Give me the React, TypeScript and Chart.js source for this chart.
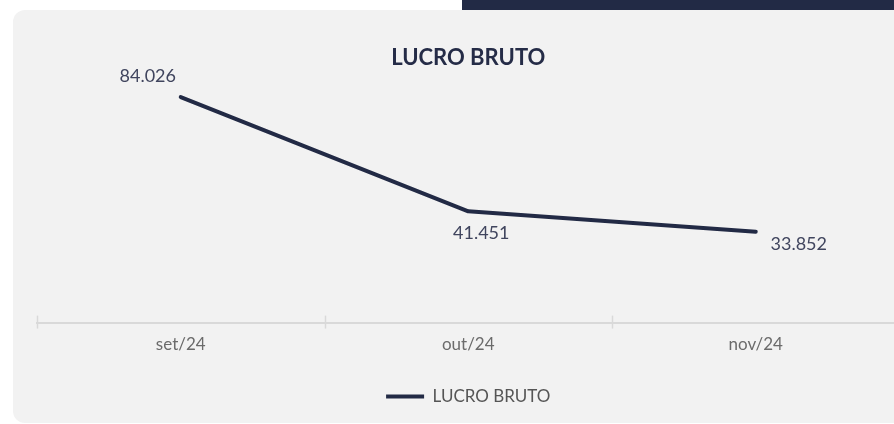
import React, { useEffect, useRef } from "react";
import { Chart, registerables } from "chart.js";

Chart.register(...registerables);

const categories = ["set/24", "out/24", "nov/24"];
const lucroBruto = [84026, 41451, 33852];
const seriesName = "LUCRO BRUTO";
const chartTitle = "LUCRO BRUTO";

const NAVY = "#222a45";
const FONT = "Lato, 'Noto Sans', sans-serif";

const fmt = (v: number) => v.toLocaleString("de-DE");

// label anchor per point: [dx, dy, align]
const labelPlacement: [number, number, CanvasTextAlign][] = [
  [-33, -21, "center"],
  [13, 22, "center"],
  [43, 12, "center"],
];

const labelPlugin = {
  id: "pointLabels",
  afterDatasetsDraw(chart: any) {
    const { ctx } = chart;
    const meta = chart.getDatasetMeta(0);
    ctx.save();
    ctx.font = `18px ${FONT}`;
    ctx.fillStyle = "#40455e";
    ctx.textBaseline = "middle";
    meta.data.forEach((pt: any, i: number) => {
      const [dx, dy, al] = labelPlacement[i];
      ctx.textAlign = al;
      ctx.fillText(fmt(lucroBruto[i]), pt.x + dx, pt.y + dy);
    });
    ctx.restore();
  },
};

const tickMarks = {
  id: "tickMarks",
  afterDraw(chart: any) {
    const { ctx } = chart;
    const x = chart.scales.x;
    const y = chart.chartArea.bottom;
    ctx.save();
    ctx.strokeStyle = "#d9d9d9";
    ctx.lineWidth = 1.5;
    const half = (x.getPixelForValue(1) - x.getPixelForValue(0)) / 2;
    for (let i = 0; i <= categories.length; i++) {
      const px = Math.round(x.getPixelForValue(0) - half + i * half * 2) + 0.5;
      ctx.beginPath();
      ctx.moveTo(px, y - 7);
      ctx.lineTo(px, y + 6);
      ctx.stroke();
    }
    ctx.restore();
  },
};

export default function App() {
  const ref = useRef<HTMLCanvasElement | null>(null);

  useEffect(() => {
    if (!ref.current) return;
    const chart = new Chart(ref.current, {
      type: "line",
      data: {
        labels: categories,
        datasets: [
          {
            label: seriesName,
            data: lucroBruto.map((v) => v / 1000),
            borderColor: NAVY,
            backgroundColor: NAVY,
            borderWidth: 4,
            borderCapStyle: "round",
            borderJoinStyle: "round",
            pointRadius: 0,
            pointHoverRadius: 0,
            tension: 0,
          },
        ],
      },
      options: {
        animation: false,
        responsive: false,
        maintainAspectRatio: false,
        layout: { padding: { left: 24, right: 17.5, top: 0, bottom: 8 } },
        plugins: {
          title: {
            display: true,
            text: chartTitle,
            color: "#252c47",
            font: { family: FONT, size: 22, weight: "bold" },
            padding: { top: 35, bottom: 9.6 },
          },
          legend: {
            display: true,
            position: "bottom",
            labels: {
              usePointStyle: true,
              pointStyle: "line",
              pointStyleWidth: 38,
              color: "#555555",
              font: { family: FONT, size: 17 },
              padding: 21,
            },
          },
          tooltip: { enabled: false },
        },
        scales: {
          x: {
            offset: true,
            grid: { display: false, drawTicks: false },
            border: { display: true, color: "#d9d9d9", width: 2 },
            ticks: {
              color: "#6b6b6b",
              font: { family: FONT, size: 17 },
              padding: 12,
              maxRotation: 0,
            },
          },
          y: {
            display: false,
            min: 0,
            max: 90,
          },
        },
      },
      plugins: [labelPlugin, tickMarks],
    });
    return () => chart.destroy();
  }, []);

  return (
    <div
      style={{
        position: "fixed",
        left: 0,
        top: 0,
        width: 894,
        height: 424,
        overflow: "hidden",
        background: "#ffffff",
      }}
    >
      <div
        style={{
          position: "absolute",
          left: 462,
          top: 0,
          width: 432,
          height: 10,
          background: NAVY,
        }}
      />
      <div
        style={{
          position: "absolute",
          left: 13,
          top: 10,
          width: 920,
          height: 413,
          background: "#f2f2f2",
          borderRadius: 12,
          overflow: "hidden",
        }}
      >
        <canvas
          ref={ref}
          width={904}
          height={413}
          style={{ position: "absolute", left: 0, top: 0, width: 904, height: 413 }}
        />
      </div>
    </div>
  );
}
